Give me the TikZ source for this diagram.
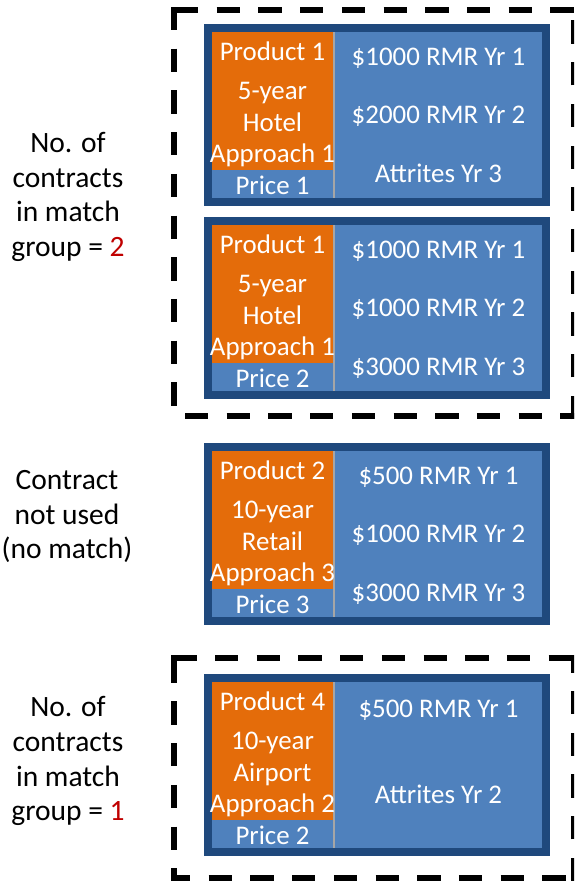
\documentclass[tikz,border=0pt]{standalone}
\usepackage{fontspec}
\setmainfont{Carlito}
\definecolor{cblue}{HTML}{4F81BD}
\definecolor{cdark}{HTML}{1F497D}
\definecolor{corange}{HTML}{E46C0A}
\definecolor{cgray}{HTML}{A6A6A6}
\definecolor{cred}{HTML}{C00000}
\tikzset{
  ctext/.style={text=white, font=\fontsize{26.9}{31}\selectfont, anchor=base, inner sep=0pt},
  lbl/.style={text=black, font=\fontsize{29.5}{35}\selectfont, anchor=base, inner sep=0pt},
  dashbox/.style={draw=black, line width=6pt, dash pattern=on 23.3pt off 18.4pt},
  cardbox/.style={fill=cblue, draw=cdark, line width=8pt},
  divider/.style={draw=cgray, line width=2pt}
}
\newcommand\contractcard[7]{%
  \begin{scope}[shift={(0,#2)}]
    \filldraw[cardbox] (208,4) rectangle (546,178);
    \fill[corange] (212,8) rectangle (333,146);
    \draw[divider] (334,8) -- (334,174);
    \node[ctext] (#1p) at (272.5,36.5) {#3};
    \node[ctext] (#1a) at (272.5,75.5) {#4};
    \node[ctext] (#1b) at (272.5,107.5) {#5};
    \node[ctext] (#1c) at (272.5,138.5) {#6};
    \node[ctext] (#1d) at (272.5,170.5) {#7};
  \end{scope}}
\begin{document}
\begin{tikzpicture}[x=1pt,y=-1pt]
\useasboundingbox (0,0) rectangle (574,881);
\clip (0,0) rectangle (574,881);
\fill[white] (0,0) rectangle (574,881);

% contract cards
\contractcard{ca}{24}{Product 1}{5-year}{Hotel}{Approach 1}{Price 1}
\node[ctext] (car1) at (438.5,65.5) {\$1000 RMR Yr 1};
\node[ctext] (car2) at (438.5,123.5) {\$2000 RMR Yr 2};
\node[ctext] (car3) at (438.5,182.5) {Attrites Yr 3};

\contractcard{cb}{217}{Product 1}{5-year}{Hotel}{Approach 1}{Price 2}
\node[ctext] (cbr1) at (438.5,258.5) {\$1000 RMR Yr 1};
\node[ctext] (cbr2) at (438.5,316.5) {\$1000 RMR Yr 2};
\node[ctext] (cbr3) at (438.5,375.5) {\$3000 RMR Yr 3};

\contractcard{cc}{443}{Product 2}{10-year}{Retail}{Approach 3}{Price 3}
\node[ctext] (ccr1) at (438.5,484.5) {\$500 RMR Yr 1};
\node[ctext] (ccr2) at (438.5,542.5) {\$1000 RMR Yr 2};
\node[ctext] (ccr3) at (438.5,601.5) {\$3000 RMR Yr 3};

\contractcard{cd}{674}{Product 4}{10-year}{Airport}{Approach 2}{Price 2}
\node[ctext] (cdr1) at (438.5,717) {\$500 RMR Yr 1};
\node[ctext] (cdr2) at (438.5,803) {Attrites Yr 2};

% dashed match-group boxes
\draw[dashbox] (175,10) -- (580,10);
\draw[dashbox] (174,7) -- (174,416);
\draw[dashbox] (185,416) -- (580,416);
\draw[dashbox] (574,419) -- (574,7);

\fill[black] (171,655) rectangle (177,661);
\draw[dashbox] (173.3,658) -- (580,658);
\draw[dashbox] (174,659.7) -- (174,878);
\draw[dashbox, dash phase=4pt] (171,878) -- (580,878);
\draw[dashbox] (574,881) -- (574,655);

% left labels
\node[lbl] (g1a) at (68,152) {No. of};
\node[lbl] (g1b) at (68,187) {contracts};
\node[lbl] (g1c) at (68,221.5) {in match};
\node[lbl] (g1d) at (68,256) {group = \textcolor{cred}{2}};

\node[lbl] (nu1) at (67,489) {Contract};
\node[lbl] (nu2) at (67,524) {not used};
\node[lbl] (nu3) at (67,558) {(no match)};

\node[lbl] (g2a) at (68,716.5) {No. of};
\node[lbl] (g2b) at (68,751) {contracts};
\node[lbl] (g2c) at (68,786) {in match};
\node[lbl] (g2d) at (68,820) {group = \textcolor{cred}{1}};
\end{tikzpicture}
\end{document}
